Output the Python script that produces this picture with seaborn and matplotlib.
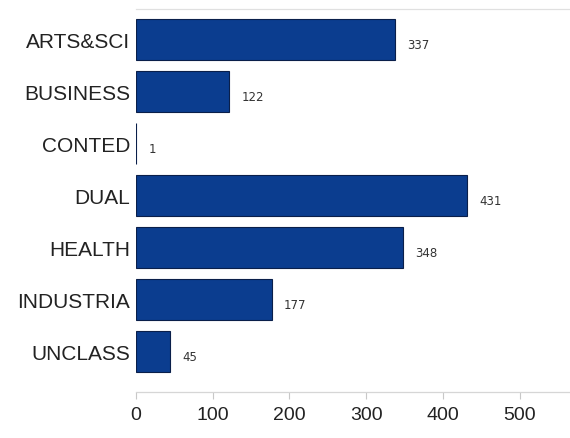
import matplotlib
matplotlib.use("Agg")
import matplotlib.pyplot as plt
import seaborn as sns
import pandas as pd

# Enrolment counts by division
divisions = ["ARTS&SCI", "BUSINESS", "CONTED", "DUAL", "HEALTH", "INDUSTRIA", "UNCLASS"]
counts = [337, 122, 1, 431, 348, 177, 45]
x_ticks = [0, 100, 200, 300, 400, 500]

sns.set_theme(style="white")
plt.rcParams["font.family"] = ["Liberation Sans", "DejaVu Sans"]

df = pd.DataFrame({"division": divisions, "count": counts})

fig = plt.figure(figsize=(5.7, 4.39), dpi=100)
ax = fig.add_axes([0.238, 0.105, 0.762, 0.872])

sns.barplot(data=df, x="count", y="division", orient="h", color="#0b3d8f",
            saturation=1, width=0.78, edgecolor="#0a1f4a", linewidth=0.8, ax=ax)

for i, v in enumerate(counts):
    ax.text(v + 16, i + 0.1, str(v), va="center", ha="left",
            fontsize=8.5, color="#333333", family="DejaVu Sans")

ax.set_xlim(0, 565)
ax.set_ylim(6.78, -0.58)
ax.set_xticks(x_ticks)
ax.set_xticklabels([str(t) for t in x_ticks], fontsize=14, color="#222222")
ax.tick_params(axis="y", labelsize=15, labelcolor="#222222", length=0, pad=4)
ax.tick_params(axis="x", length=5, width=0.8, color="#c8c8c8", pad=5, bottom=True)
ax.set_xlabel("")
ax.set_ylabel("")

for side in ["left", "right"]:
    ax.spines[side].set_visible(False)
ax.spines["bottom"].set_color("#d6d6d6")
ax.spines["top"].set_color("#e0e0e0")
ax.spines["bottom"].set_linewidth(0.9)
ax.spines["top"].set_linewidth(0.9)

fig.savefig("out.png", dpi=100)
